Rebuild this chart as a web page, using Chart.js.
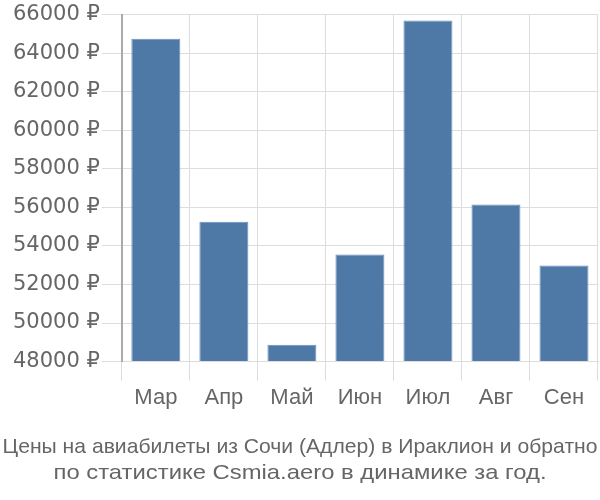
<!DOCTYPE html>
<html>
<head>
<meta charset="utf-8">
<script src="https://cdn.jsdelivr.net/npm/chart.js@4"></script>
<style>
  html, body { margin: 0; padding: 0; background: #fff; }
  #wrap { width: 600px; height: 500px; }
</style>
</head>
<body>
<div id="wrap"><canvas id="chartPrices"></canvas></div>
<script>
// месяцы и цены
var months = ["Мар", "Апр", "Май", "Июн", "Июл", "Авг", "Сен"];
var prices = [64750, 55250, 48880, 53550, 65700, 56150, 52980];
var yMin = 48000;
var yMax = 66000;
var yStep = 2000;
var titleLines = [
  "Цены на авиабилеты из Сочи (Адлер) в Ираклион и обратно",
  "по статистике Csmia.aero в динамике за год."
];

// подпись снизу, каждая строка сжата по ширине как в оригинале
var bottomTitle = {
  id: 'bottomTitle',
  afterDraw: function(chart) {
    var ctx = chart.ctx;
    var widths = [595, 493];
    var ys = [447, 473];
    ctx.save();
    ctx.font = "21px Arial, 'Liberation Sans', sans-serif";
    ctx.fillStyle = '#666';
    ctx.textAlign = 'center';
    ctx.textBaseline = 'middle';
    for (var i = 0; i < titleLines.length; i++) {
      var sx = widths[i] / ctx.measureText(titleLines[i]).width;
      ctx.save();
      ctx.translate(300, ys[i]);
      ctx.scale(sx, 1);
      ctx.fillText(titleLines[i], 0, 0);
      ctx.restore();
    }
    ctx.restore();
  }
};

new Chart(document.getElementById('chartPrices'), {
  type: 'bar',
  data: {
    labels: months,
    datasets: [{
      label: "Цена",
      data: prices,
      base: yMin,
      backgroundColor: "#4e79a7",
      borderColor: "#6a8fba",
      borderWidth: 1,
      barPercentage: 0.72,
      categoryPercentage: 1
    }]
  },
  plugins: [bottomTitle],
  options: {
    responsive: true,
    maintainAspectRatio: false,
    animation: false,
    layout: { padding: { left: 11, right: 2, top: 5, bottom: 85 } },
    plugins: {
      legend: { display: false },
      tooltip: { enabled: false }
    },
    scales: {
      x: {
        grid: { color: '#ddd', tickLength: 19, offset: true },
        border: { color: '#ddd' },
        ticks: { color: '#666', font: { family: "Arial, 'Liberation Sans', sans-serif", size: 22 }, padding: 4 }
      },
      y: {
        min: yMin,
        max: yMax,
        grid: { color: '#ddd', tickLength: 20 },
        border: { color: '#aaa', width: 2 },
        ticks: {
          stepSize: yStep,
          color: '#666',
          padding: 2,
          font: { family: "'DejaVu Sans', sans-serif", size: 21 },
          callback: function(v) { return v + ' ₽'; }
        }
      }
    }
  }
});
</script>
</body>
</html>
